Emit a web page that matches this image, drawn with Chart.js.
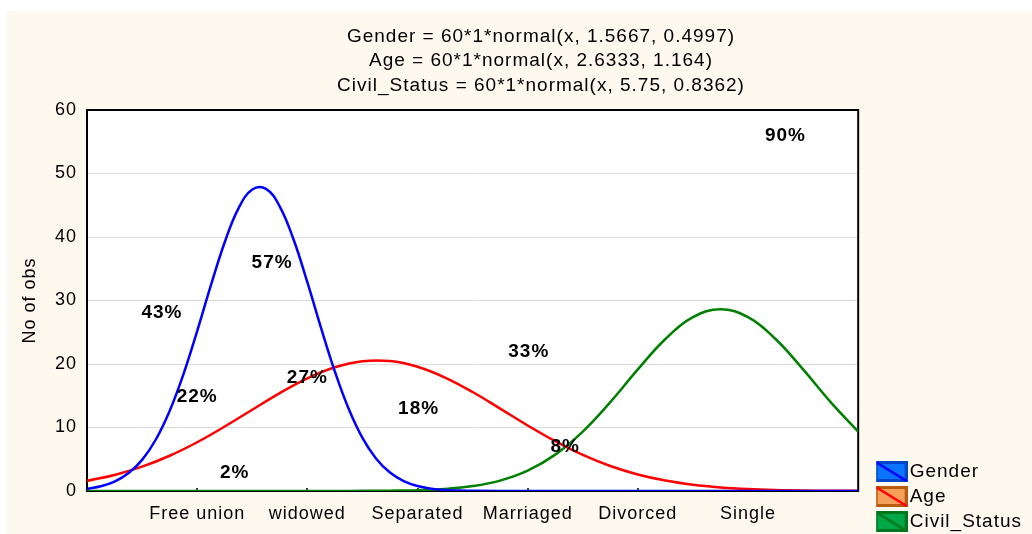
<!DOCTYPE html>
<html>
<head>
<meta charset="utf-8">
<title>Normal fits</title>
<script src="https://cdn.jsdelivr.net/npm/chart.js@4.4.1/dist/chart.umd.min.js"></script>
<style>
  html, body { margin: 0; padding: 0; background: #fff; }
  #wrap { width: 1032px; height: 534px; }
</style>
</head>
<body>
<div id="wrap"><canvas id="normChart" width="1032" height="534"></canvas></div>
<script>
// categories on the x axis (placed at x = 1..6)
const categories = ['Free union', 'widowed', 'Separated', 'Marriaged', 'Divorced', 'Single'];
const seriesNames = ['Gender', 'Age', 'Civil_Status'];

// curve samples
// Gender is narrow, so it is read more densely
const genderX = [0, 0.125, 0.25, 0.375, 0.5, 0.625, 0.75, 0.875, 1, 1.125, 1.25, 1.375, 1.5, 1.625,
  1.75, 1.875, 2, 2.125, 2.25, 2.375, 2.5, 2.625, 2.75, 2.875, 3, 3.125, 3.25, 3.375, 3.5,
  4, 5, 6, 7];
const gender = [0.35, 0.75, 1.49, 2.79, 4.90, 8.11, 12.60, 18.37, 25.18, 32.41, 39.18, 44.50, 47.48, 47.57,
  44.79, 39.60, 32.89, 25.66, 18.81, 12.95, 8.37, 5.09, 2.90, 1.56, 0.78, 0.37, 0.16, 0.07, 0.03,
  0, 0, 0, 0];

// Age and Civil_Status, x = 0 .. 7 every 0.25
const xs = [0, 0.25, 0.5, 0.75, 1, 1.25, 1.5, 1.75, 2, 2.25, 2.5, 2.75, 3, 3.25, 3.5,
  3.75, 4, 4.25, 4.5, 4.75, 5, 5.25, 5.5, 5.75, 6, 6.25, 6.5, 6.75, 7];
const age = [1.59, 2.53, 3.83, 5.55, 7.68, 10.15, 12.80, 15.42, 17.73, 19.48, 20.43, 20.46, 19.57, 17.87, 15.59,
  12.98, 10.32, 7.84, 5.68, 3.94, 2.60, 1.64, 0.99, 0.57, 0.31, 0.16, 0.08, 0.04, 0.02];
const civil = [0, 0, 0, 0, 0, 0, 0, 0, 0, 0, 0.02, 0.05, 0.13, 0.33, 0.77,
  1.64, 3.20, 5.73, 9.36, 14.00, 19.15, 23.94, 27.37, 28.63, 27.37, 23.94, 19.15, 14.00, 9.36];

// percentage labels written inside the plot
const pctText = ['43%', '57%', '22%', '27%', '2%', '18%', '33%', '8%', '90%'];
const pctX = [0.68, 1.68, 1.0, 2.0, 1.34, 3.01, 4.01, 4.34, 6.34];
const pctY = [28.0, 35.9, 14.8, 17.8, 2.8, 12.9, 21.9, 6.9, 55.9];

const titleLines = [
  'Gender = 60*1*normal(x, 1.5667, 0.4997)',
  'Age = 60*1*normal(x, 2.6333, 1.164)',
  'Civil_Status = 60*1*normal(x, 5.75, 0.8362)'
];

const FONT = '"Liberation Sans", Arial, sans-serif';
Chart.defaults.font.family = FONT;
Chart.defaults.color = '#000';

const lineColors = ['#0000ff', '#ff0000', '#008000'];
const swatchFill = ['#0a74ff', '#f5a05a', '#00a848'];
const swatchEdge = ['#0046c8', '#b85a10', '#00761e'];
const swatchDiag = ['#0000ff', '#ff0000', '#007a1e'];

// legend box with a diagonal stroke, like the original
function makeSwatch(i) {
  const c = document.createElement('canvas');
  c.width = 33;
  c.height = 21;
  const g = c.getContext('2d');
  g.fillStyle = swatchEdge[i];
  g.fillRect(0, 0, 33, 21);
  g.fillStyle = swatchFill[i];
  g.fillRect(3, 3, 27, 15);
  g.strokeStyle = swatchDiag[i];
  g.lineWidth = 2.5;
  g.beginPath();
  g.moveTo(1, 1);
  g.lineTo(32, 20);
  g.stroke();
  return c;
}
const swatches = seriesNames.map((n, i) => makeSwatch(i));

const decor = {
  id: 'decor',
  beforeUpdate(chart) {
    chart.ctx.letterSpacing = '1px';
  },
  beforeDraw(chart) {
    const c = chart.ctx;
    const a = chart.chartArea;
    c.letterSpacing = '1px';
    c.save();
    c.fillStyle = '#ffffff';
    c.fillRect(0, 0, chart.width, chart.height);
    c.fillStyle = '#fdf9ee';
    c.fillRect(7, 11, chart.width - 7, chart.height - 11);
    c.fillStyle = '#ffffff';
    c.fillRect(a.left, a.top, a.right - a.left, a.bottom - a.top);
    // title lines
    c.fillStyle = '#000';
    c.font = '19px ' + FONT;
    c.textAlign = 'center';
    c.textBaseline = 'alphabetic';
    const ys = [41.5, 66, 90.5];
    titleLines.forEach((t, i) => c.fillText(t, 541, ys[i]));
    c.restore();
  },
  beforeDatasetsDraw(chart) {
    const c = chart.ctx;
    const a = chart.chartArea;
    const xScale = chart.scales.x;
    c.save();
    c.strokeStyle = '#000';
    c.lineWidth = 2;
    c.strokeRect(a.left, a.top, a.right - a.left, a.bottom - a.top);
    // small inner tick marks at the category positions
    c.lineWidth = 1.5;
    c.beginPath();
    categories.forEach((n, i) => {
      const px = Math.round(xScale.getPixelForValue(i + 1));
      c.moveTo(px, a.bottom);
      c.lineTo(px, a.bottom - 3);
    });
    c.stroke();
    c.restore();
  },
  afterDatasetsDraw(chart) {
    const c = chart.ctx;
    const xScale = chart.scales.x;
    const yScale = chart.scales.y;
    c.save();
    c.fillStyle = '#000';
    c.font = 'bold 19px ' + FONT;
    c.textAlign = 'center';
    c.textBaseline = 'middle';
    pctText.forEach((t, i) => {
      c.fillText(t, xScale.getPixelForValue(pctX[i]), yScale.getPixelForValue(pctY[i]));
    });
    c.restore();
  }
};

const ctx = document.getElementById('normChart').getContext('2d');

const seriesX = [genderX, xs, xs];
new Chart(ctx, {
  type: 'line',
  data: {
    datasets: [gender, age, civil].map((vals, i) => ({
      label: seriesNames[i],
      data: seriesX[i].map((x, j) => ({ x: x, y: vals[j] })),
      borderColor: lineColors[i],
      borderWidth: 2.5,
      pointRadius: 0,
      tension: 0.4,
      fill: false
    }))
  },
  options: {
    responsive: false,
    animation: false,
    events: [],
    layout: { padding: { top: 110, right: 0, bottom: -3, left: 0 } },
    scales: {
      x: {
        type: 'linear',
        min: 0,
        max: 7,
        afterFit: (s) => { s.height = 46; },
        grid: { display: false, drawTicks: false },
        border: { display: false },
        ticks: {
          stepSize: 1,
          autoSkip: false,
          maxRotation: 0,
          padding: 12,
          font: { size: 18 },
          color: '#000',
          callback: (v) => categories[v - 1] || ''
        }
      },
      y: {
        min: 0,
        max: 60,
        afterFit: (s) => { s.width = 87; },
        grid: { color: '#dcdcdc', drawTicks: false },
        border: { display: false },
        ticks: { stepSize: 10, padding: 10, font: { size: 18 }, color: '#000' },
        title: {
          display: true,
          text: 'No of obs',
          font: { size: 18 },
          color: '#000',
          padding: { top: 19, bottom: 0 }
        }
      },
      // empty axis, only keeps a gap between plot and legend
      yRight: {
        position: 'right',
        min: 0,
        max: 60,
        afterFit: (s) => { s.width = 18; },
        grid: { display: false, drawTicks: false },
        border: { display: false },
        ticks: { display: false }
      }
    },
    plugins: {
      title: { display: false },
      tooltip: { enabled: false },
      legend: {
        position: 'right',
        align: 'end',
        labels: {
          usePointStyle: true,
          pointStyleWidth: 18,
          boxHeight: 21,
          padding: 6,
          color: '#000',
          font: { size: 19 },
          generateLabels: () => seriesNames.map((n, i) => ({
            text: n,
            pointStyle: swatches[i],
            fillStyle: swatchFill[i],
            strokeStyle: swatchEdge[i],
            lineWidth: 0,
            hidden: false,
            datasetIndex: i
          }))
        }
      }
    }
  },
  plugins: [decor]
});
</script>
</body>
</html>
